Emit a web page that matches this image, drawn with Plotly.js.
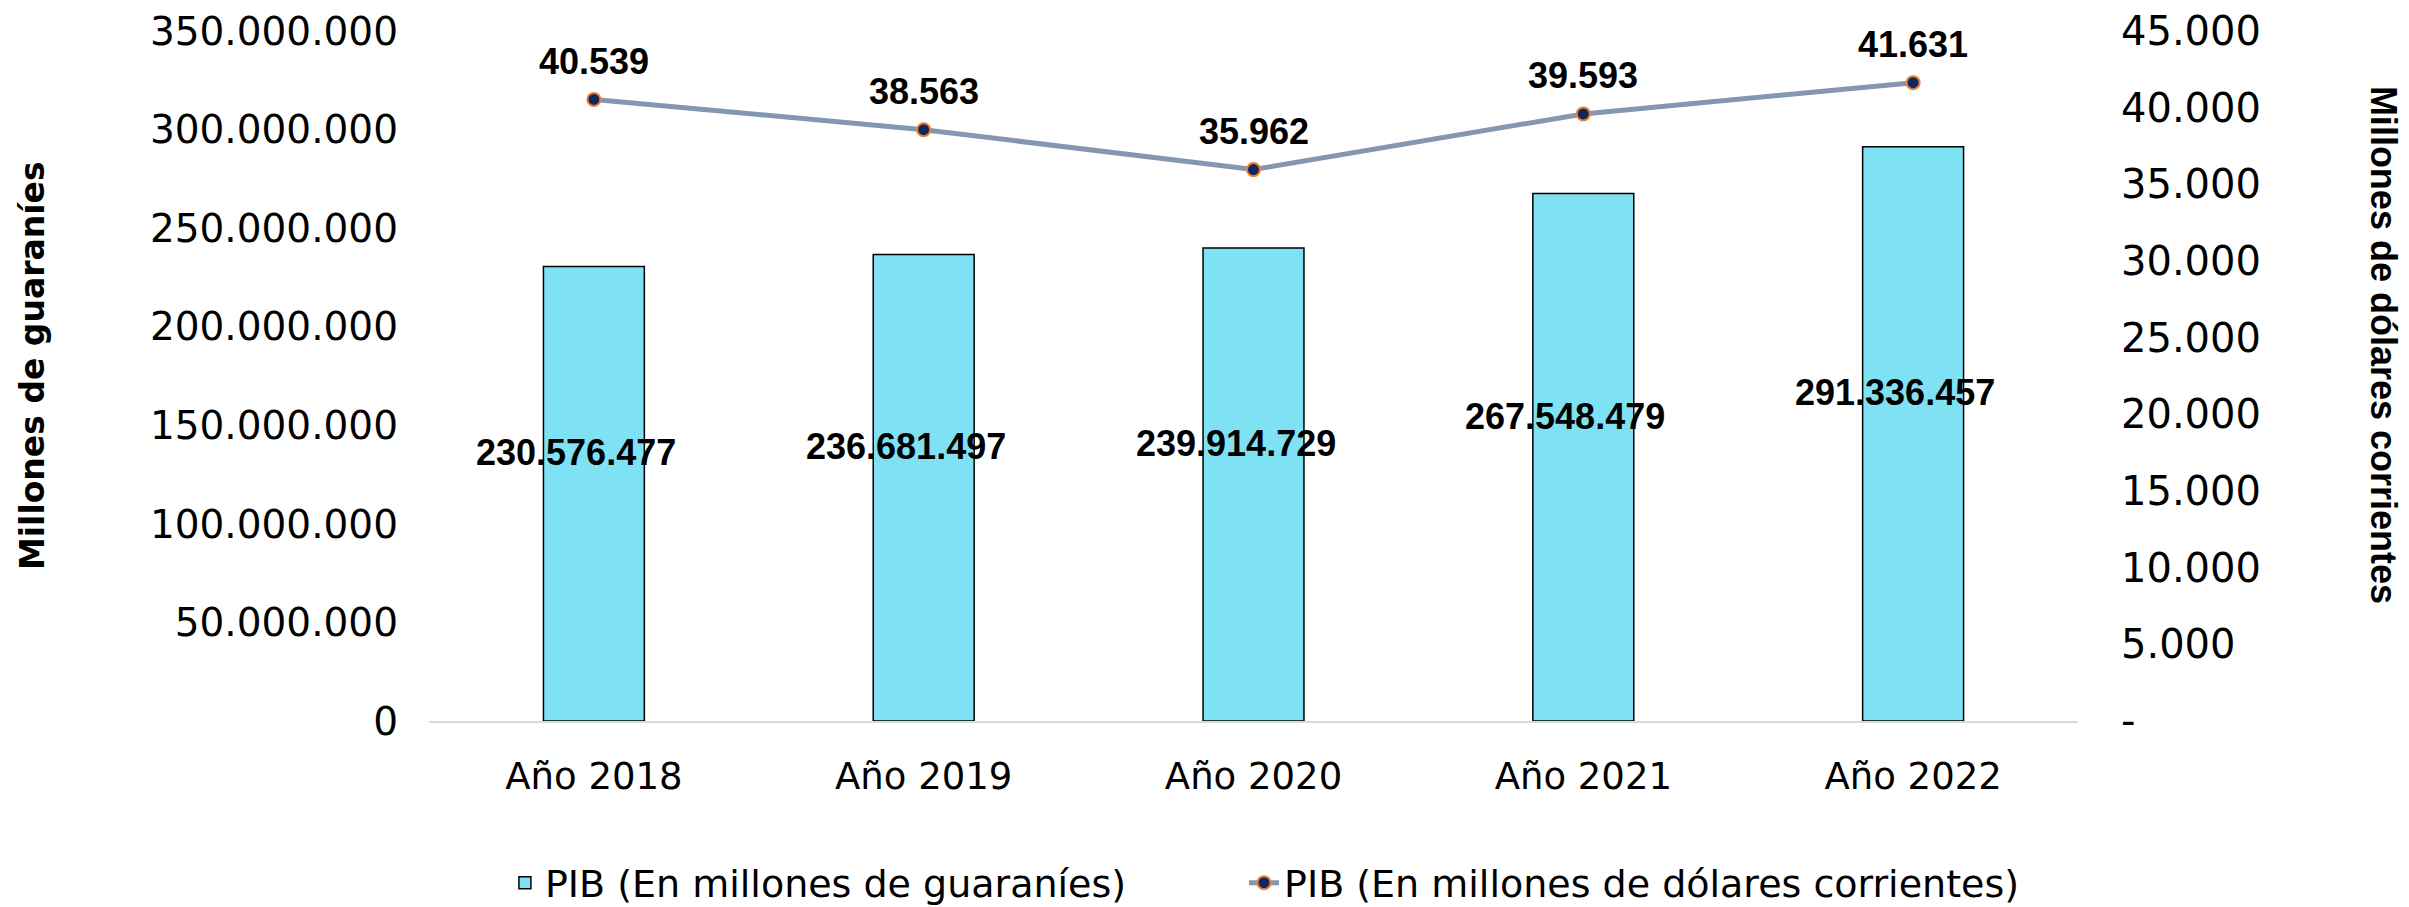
<!DOCTYPE html>
<html>
<head>
<meta charset="utf-8">
<script src="https://cdn.plot.ly/plotly-3.0.1.min.js"></script>
<style>html,body{margin:0;padding:0;background:#fff;}#chart{width:2409px;height:907px;}</style>
</head>
<body>
<div id="chart"></div>
<script>
const categories = ["Año 2018", "Año 2019", "Año 2020", "Año 2021", "Año 2022"];
const pibGuaranies = [230576477, 236681497, 239914729, 267548479, 291336457];
const pibDolares = [40539, 38563, 35962, 39593, 41631];
const leftTickVals = [0, 50000000, 100000000, 150000000, 200000000, 250000000, 300000000, 350000000];
const leftTickText = ["0", "50.000.000", "100.000.000", "150.000.000", "200.000.000", "250.000.000", "300.000.000", "350.000.000"];
const rightTickVals = [0, 5000, 10000, 15000, 20000, 25000, 30000, 35000, 40000, 45000];
const rightTickText = ["-", "5.000", "10.000", "15.000", "20.000", "25.000", "30.000", "35.000", "40.000", "45.000"];
const seriesNames = ["PIB (En millones de guaraníes)", "PIB (En millones de dólares corrientes)"];
const axisTitles = ["Millones de guaraníes", "Millones de dólares corrientes"];

function fmt(v) { return String(v).replace(/\B(?=(\d{3})+(?!\d))/g, "."); }

const baseFont = "DejaVu Sans, Open Sans, sans-serif";
const boldFont = "Liberation Sans, Arial, Roboto, sans-serif";

const traces = [
  {
    type: "bar", name: seriesNames[0], x: categories, y: pibGuaranies, yaxis: "y",
    width: 0.306, legend: "legend",
    marker: {color: "#7FE2F4", line: {color: "#000000", width: 1.5}},
    hoverinfo: "skip"
  },
  {
    type: "scatter", mode: "lines+markers", name: seriesNames[1], x: categories, y: pibDolares, yaxis: "y2",
    legend: "legend2",
    line: {color: "#8497B0", width: 5},
    marker: {color: "#0E2760", size: 13, line: {color: "#ED7D31", width: 2}},
    hoverinfo: "skip"
  }
];

const annotations = [];
categories.forEach((c, i) => {
  annotations.push({
    x: c, y: pibGuaranies[i] / 2, xref: "x", yref: "y", text: fmt(pibGuaranies[i]),
    showarrow: false, xshift: -18, yshift: 41,
    font: {family: boldFont, size: 36, color: "#000", weight: "bold"}
  });
  annotations.push({
    x: c, y: pibDolares[i], xref: "x", yref: "y2", text: fmt(pibDolares[i]),
    showarrow: false, yshift: 38,
    font: {family: boldFont, size: 36, color: "#000", weight: "bold"}
  });
});
annotations.push({
  x: -0.2401, y: 0.5145, xref: "paper", yref: "paper", text: axisTitles[0], textangle: -90,
  showarrow: false, xanchor: "center", yanchor: "middle",
  font: {family: baseFont, size: 33, color: "#000", weight: "bold"}
});
annotations.push({
  x: 1.185, y: 0.545, xref: "paper", yref: "paper", text: axisTitles[1], textangle: 90,
  showarrow: false, xanchor: "center", yanchor: "middle",
  font: {family: boldFont, size: 36, color: "#000", weight: "bold"}
});

const legendCommon = {
  orientation: "h", xref: "container", yref: "container",
  y: 0.0265, xanchor: "left", yanchor: "middle",
  font: {family: baseFont, size: 38, color: "#000"},
  bgcolor: "rgba(0,0,0,0)"
};

const layout = {
  width: 2409, height: 907,
  margin: {l: 429, r: 331, t: 31, b: 186, pad: 0},
  paper_bgcolor: "#ffffff", plot_bgcolor: "#ffffff",
  showlegend: true,
  bargap: 0,
  xaxis: {
    type: "category", showgrid: false, zeroline: false,
    showline: true, linecolor: "#D9D9D9", linewidth: 2,
    ticks: "", ticklabelstandoff: 22,
    tickfont: {family: baseFont, size: 37, color: "#000"}
  },
  yaxis: {
    range: [0, 350000000], showgrid: false, zeroline: false, showline: false,
    tickmode: "array", tickvals: leftTickVals, ticktext: leftTickText,
    ticks: "", ticklabelstandoff: 30,
    tickfont: {family: baseFont, size: 39, color: "#000"}
  },
  yaxis2: {
    range: [0, 45000], overlaying: "y", side: "right",
    showgrid: false, zeroline: false, showline: false,
    tickmode: "array", tickvals: rightTickVals, ticktext: rightTickText,
    ticks: "", ticklabelstandoff: 42,
    tickfont: {family: baseFont, size: 40, color: "#000"}
  },
  legend: Object.assign({}, legendCommon, {x: 0.2096}),
  legend2: Object.assign({}, legendCommon, {x: 0.5164}),
  annotations: annotations
};

Plotly.newPlot("chart", traces, layout, {displayModeBar: false, staticPlot: true});
</script>
</body>
</html>
